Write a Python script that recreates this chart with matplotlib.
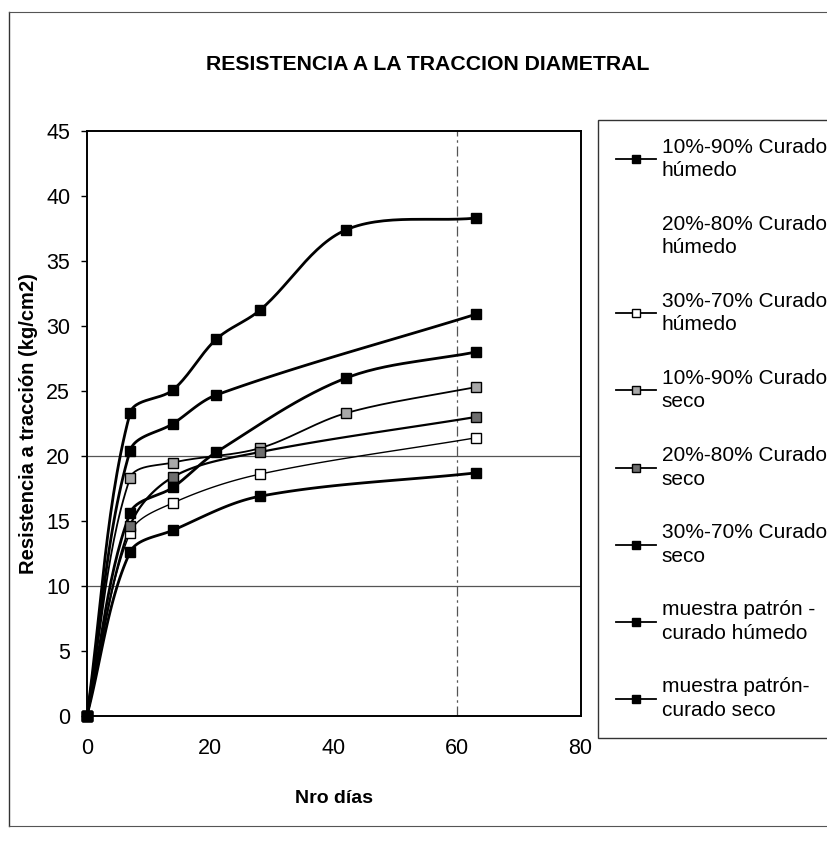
import numpy as np
import matplotlib
matplotlib.use('Agg')
import matplotlib.pyplot as plt
from matplotlib.lines import Line2D

plt.rcParams['font.family'] = ['Liberation Sans', 'DejaVu Sans']

# Ensayos de tracción diametral: días de curado y resistencia (kg/cm2)
dias_10_90_h = [0, 7, 14, 21, 28, 42, 63]
res_10_90_h = [0, 23.3, 25.1, 29.0, 31.2, 37.4, 38.3]

dias_20_80_h = []
res_20_80_h = []

dias_30_70_h = [0, 7, 14, 28, 63]
res_30_70_h = [0, 14.1, 16.4, 18.6, 21.4]

dias_10_90_s = [0, 7, 14, 28, 42, 63]
res_10_90_s = [0, 18.3, 19.5, 20.6, 23.3, 25.3]

dias_20_80_s = [0, 7, 14, 28, 63]
res_20_80_s = [0, 14.6, 18.4, 20.3, 23.0]

dias_30_70_s = [0, 7, 14, 21, 42, 63]
res_30_70_s = [0, 15.6, 17.6, 20.3, 26.0, 28.0]

dias_patron_h = [0, 7, 14, 21, 63]
res_patron_h = [0, 20.4, 22.5, 24.7, 30.9]

dias_patron_s = [0, 7, 14, 28, 63]
res_patron_s = [0, 12.6, 14.3, 16.9, 18.7]

series = [
    ('10%-90% Curado\nhúmedo', dias_10_90_h, res_10_90_h, 'black', 'black', 2.0),
    ('20%-80% Curado\nhúmedo', dias_20_80_h, res_20_80_h, 'none', 'none', 0),
    ('30%-70% Curado\nhúmedo', dias_30_70_h, res_30_70_h, 'black', 'white', 1.0),
    ('10%-90% Curado\nseco', dias_10_90_s, res_10_90_s, 'black', '#a8a8a8', 1.3),
    ('20%-80% Curado\nseco', dias_20_80_s, res_20_80_s, 'black', '#6e6e6e', 1.6),
    ('30%-70% Curado\nseco', dias_30_70_s, res_30_70_s, 'black', 'black', 2.0),
    ('muestra patrón -\ncurado húmedo', dias_patron_h, res_patron_h, 'black', 'black', 2.0),
    ('muestra patrón-\ncurado seco', dias_patron_s, res_patron_s, 'black', 'black', 2.0),
]


def suavizar(ax, x, y, n=30):
    # curva suavizada con tangentes ponderadas por la longitud de cada tramo (en pixeles)
    pts = ax.transData.transform(np.column_stack([x, y]))
    p = np.vstack([pts[0], pts, pts[-1]])
    out = [pts[0]]
    t = np.linspace(0, 1, n)[1:, None]
    for i in range(1, len(p) - 2):
        p0, p1, p2, p3 = p[i - 1], p[i], p[i + 1], p[i + 2]
        d01 = np.hypot(*(p1 - p0))
        d12 = np.hypot(*(p2 - p1))
        d23 = np.hypot(*(p3 - p2))
        c1 = p1 + (p2 - p0) / 3 * d12 / max(d01 + d12, 1e-9)
        c2 = p2 - (p3 - p1) / 3 * d12 / max(d12 + d23, 1e-9)
        seg = ((1 - t) ** 3) * p1 + 3 * ((1 - t) ** 2) * t * c1 + 3 * (1 - t) * t ** 2 * c2 + t ** 3 * p2
        out.extend(seg)
    out = ax.transData.inverted().transform(np.array(out))
    return out[:, 0], out[:, 1]


fig = plt.figure(figsize=(8.27, 8.41), dpi=100)
ax = fig.add_axes([0.105, 0.1486, 0.597, 0.6956])
ax.set_xlim(0, 80)
ax.set_ylim(0, 45)

# lineas de division
ax.axhline(10, color='#555555', lw=0.9, zorder=1)
ax.axhline(20, color='#555555', lw=0.9, zorder=1)
ax.axvline(60, color='#555555', lw=0.9, ls=(0, (8, 3, 2, 3)), zorder=1)

handles = []
for nombre, x, y, col, cara, lw in series:
    if len(x) > 1:
        xs, ys = suavizar(ax, x, y)
        ax.plot(xs, ys, color=col, lw=lw, zorder=2)
        ax.plot(x, y, ls='none', marker='s', ms=7.5, mfc=cara, mec='black', mew=1.0,
                zorder=3, clip_on=False)
    handles.append(Line2D([], [], color=col, lw=1.3 if lw else 0, marker='s', ms=6,
                          mfc=cara, mec=col, mew=1.0, label=nombre))

ax.set_xticks([0, 20, 40, 60, 80])
ax.set_yticks(range(0, 46, 5))
ax.tick_params(axis='both', labelsize=15.5, colors='black')
ax.tick_params(axis='y', length=4, width=1, pad=8)
ax.tick_params(axis='x', length=0, pad=16)
for s in ax.spines.values():
    s.set_linewidth(1.4)

ax.set_title('RESISTENCIA A LA TRACCION DIAMETRAL', fontsize=15.3, fontweight='bold',
             x=0.69, pad=44)
ax.set_xlabel('Nro días', fontsize=14, fontweight='bold', labelpad=22)
ax.set_ylabel('Resistencia a tracción (kg/cm2)', fontsize=14.5, fontweight='bold', labelpad=6)

leg = fig.legend(handles=handles, loc='upper left', bbox_to_anchor=(598 / 827, 1 - 120 / 841),
                 fontsize=15, frameon=True, fancybox=False, edgecolor='black',
                 handlelength=1.95, handletextpad=0.25, labelspacing=1.66,
                 borderpad=0.85, borderaxespad=0)
leg.get_frame().set_linewidth(1.0)
for txt in leg.get_texts():
    txt.set_linespacing(1.3)

# marco exterior del grafico
fig.add_artist(Line2D([9 / 827, 9 / 827], [1 - 12 / 841, 1 - 826 / 841], color='#333333', lw=1.0))
fig.add_artist(Line2D([9 / 827, 1.0], [1 - 12 / 841, 1 - 12 / 841], color='#555555', lw=0.8))
fig.add_artist(Line2D([9 / 827, 1.0], [1 - 826 / 841, 1 - 826 / 841], color='#555555', lw=0.8))

fig.savefig('out.png', dpi=100, facecolor='white')
